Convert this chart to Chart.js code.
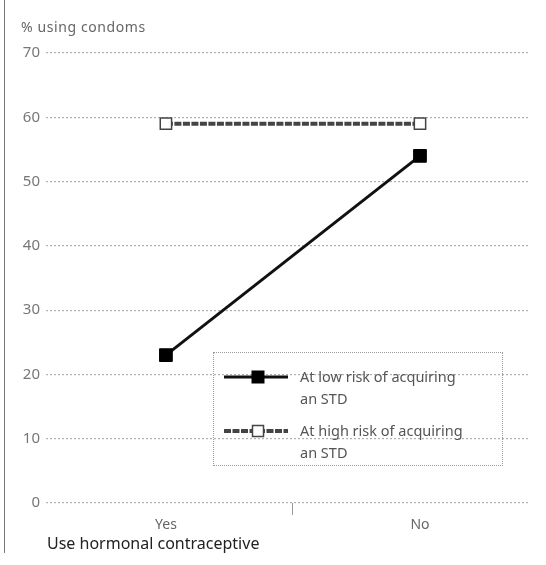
<!DOCTYPE html>
<html>
<head>
<meta charset="utf-8">
<script src="https://cdn.jsdelivr.net/npm/chart.js@4"></script>
<style>
  body { margin: 0; background: #fff; font-family: "Noto Sans", sans-serif; }
  #wrap { position: relative; width: 546px; height: 565px; }
  #chartCanvas { position: absolute; left: 0; top: 0; }
  .frame { position: absolute; left: 4px; top: 0; height: 553px; border-left: 1.5px solid #777; }
  .ytitle { position: absolute; left: 21px; top: 17px; font-size: 14px; color: #666; letter-spacing: 0.6px; }
  .xtitle { position: absolute; left: 47px; top: 532px; font-size: 16px; color: #222; }
  #legend { position: absolute; left: 213px; top: 352px; width: 290px; height: 114px;
            border: 1.5px dotted #999; box-sizing: border-box; }
  .item { position: absolute; left: 8px; display: flex; align-items: flex-start; }
  .item svg { flex: none; margin-top: 0px; }
  .item span { margin-left: 10px; font-size: 14.5px; line-height: 22px; color: #555; }
</style>
</head>
<body>
<div id="wrap">
  <canvas id="chartCanvas" width="546" height="565"></canvas>
  <div class="frame"></div>
  <div class="ytitle">% using condoms</div>
  <div class="xtitle">Use hormonal contraceptive</div>
  <div id="legend"></div>
</div>
<script>
"use strict";

const categories = ['Yes', 'No'];
const seriesNames = ['At low risk of acquiring an STD', 'At high risk of acquiring an STD'];
const lowRisk = [23, 54];
const highRisk = [59, 59];
const yTicks = [0, 10, 20, 30, 40, 50, 60, 70];

const ctx = document.getElementById('chartCanvas');

const toPoints = vals => vals.map((v, i) => ({ x: i, y: v }));

const config = {
    type: 'line',
    data: {
        datasets: [{
            label: seriesNames[0],
            data: toPoints(lowRisk),
            borderColor: '#111',
            borderWidth: 3,
            pointStyle: 'rect',
            pointRadius: 9,
            pointBackgroundColor: '#000',
            pointBorderColor: '#000',
            pointBorderWidth: 1
        }, {
            label: seriesNames[1],
            data: toPoints(highRisk),
            borderColor: '#444',
            borderWidth: 4,
            borderDash: [7, 1.5],
            pointStyle: 'rect',
            pointRadius: 8,
            pointBackgroundColor: '#fff',
            pointBorderColor: '#444',
            pointBorderWidth: 1.5
        }]
    },
    options: {
        responsive: false,
        animation: false,
        layout: { padding: { left: 6, right: 16, top: 53, bottom: 32 } },
        plugins: {
            legend: { display: false },
            tooltip: { enabled: false }
        },
        scales: {
            x: {
                type: 'linear',
                min: -0.472,
                max: 1.433,
                afterBuildTicks: scale => { scale.ticks = [{ value: 0 }, { value: 0.5 }, { value: 1 }]; },
                afterFit: scale => { scale.height = 30; },
                ticks: {
                    autoSkip: false,
                    maxRotation: 0,
                    padding: 2,
                    color: '#666',
                    font: { family: 'Noto Sans', size: 14 },
                    callback: v => (v === 0 ? categories[0] : v === 1 ? categories[1] : '')
                },
                grid: {
                    drawOnChartArea: false,
                    tickLength: 12,
                    color: c => (c.tick && c.tick.value === 0.5 ? '#999' : 'rgba(0,0,0,0)')
                },
                border: { display: false }
            },
            y: {
                min: 0,
                max: 70,
                afterBuildTicks: scale => { scale.ticks = yTicks.map(v => ({ value: v })); },
                afterFit: scale => { scale.width = 40; },
                ticks: {
                    padding: 6,
                    color: '#777',
                    font: { family: 'Noto Sans', size: 15 }
                },
                grid: {
                    drawTicks: false,
                    color: '#b0b0b0',
                    lineWidth: 1.2
                },
                border: { display: false, dash: [2, 2] }
            }
        }
    }
};

const chart = new Chart(ctx, config);

// legend built from the datasets
const legend = document.getElementById('legend');
const tops = [12, 66];
chart.data.datasets.forEach((ds, i) => {
    const item = document.createElement('div');
    item.className = 'item';
    item.style.top = tops[i] + 'px';
    const side = i === 0 ? 12 : 11;
    const dash = ds.borderDash ? ds.borderDash.join(',') : 'none';
    item.innerHTML =
        '<svg width="68" height="22">' +
        '<line x1="2" y1="12" x2="66" y2="12" stroke="' + ds.borderColor + '" stroke-width="' + ds.borderWidth +
        '" stroke-dasharray="' + dash + '"/>' +
        '<rect x="' + (36 - side / 2) + '" y="' + (12 - side / 2) + '" width="' + side + '" height="' + side +
        '" fill="' + ds.pointBackgroundColor + '" stroke="' + ds.pointBorderColor + '" stroke-width="' + ds.pointBorderWidth + '"/>' +
        '</svg>';
    const label = document.createElement('span');
    const words = ds.label.split(' an ');
    label.innerHTML = words[0] + '<br>an ' + words[1];
    item.appendChild(label);
    legend.appendChild(item);
});
</script>
</body>
</html>
